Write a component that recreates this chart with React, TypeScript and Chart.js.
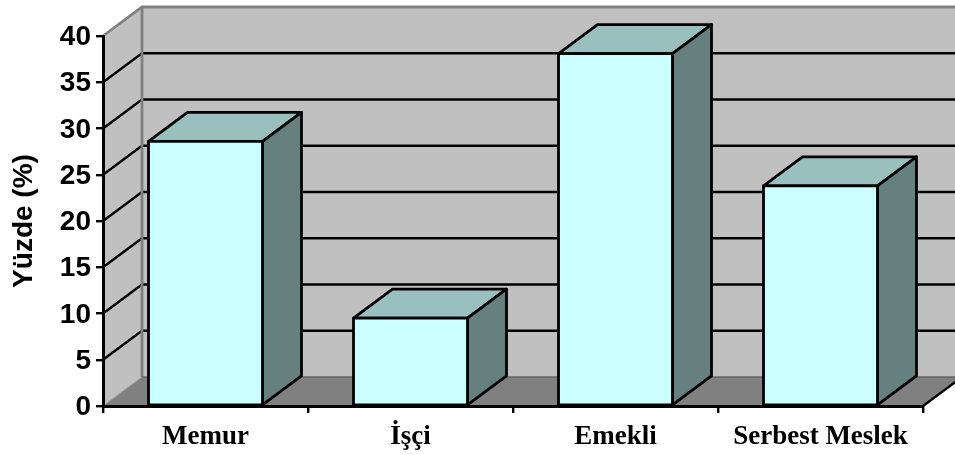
import React, { useEffect, useRef } from "react";
import { Chart, registerables } from "chart.js";

Chart.register(...registerables);

const categories = ["Memur", "İşçi", "Emekli", "Serbest Meslek"];
const percentages = [28.6, 9.5, 38.1, 23.8];
const axisMax = 40;
const axisStep = 5;
const axisTitle = "Yüzde (%)";

// Oblique offset of the chart's back plane relative to its front plane.
const DEPTH_X = 39;
const DEPTH_Y = -29;

const WALL = "#c0c0c0";
const FLOOR = "#808080";
const EDGE = "#808080";
const INK = "#000000";
const BAR_FRONT = "#ccffff";
const BAR_TOP = "#99bfbf";
const BAR_SIDE = "#668080";
const BAR_LINE = 2.8;

function polygon(ctx: CanvasRenderingContext2D, pts: number[][], fill: string | null, stroke: string | null, lw = 2) {
  ctx.beginPath();
  pts.forEach(([x, y], i) => (i ? ctx.lineTo(x, y) : ctx.moveTo(x, y)));
  ctx.closePath();
  if (fill) {
    ctx.fillStyle = fill;
    ctx.fill();
  }
  if (stroke) {
    ctx.strokeStyle = stroke;
    ctx.lineWidth = lw;
    ctx.lineJoin = "round";
    ctx.stroke();
  }
}

function segment(ctx: CanvasRenderingContext2D, pts: number[][], color: string, lw: number) {
  ctx.beginPath();
  pts.forEach(([x, y], i) => (i ? ctx.lineTo(x, y) : ctx.moveTo(x, y)));
  ctx.strokeStyle = color;
  ctx.lineWidth = lw;
  ctx.stroke();
}

function barBox(bar: any) {
  const half = bar.width / 2;
  return { l: bar.x - half, r: bar.x + half, t: bar.y, b: bar.base };
}

// Side wall, back wall, floor and the gridlines that wrap round the walls.
const roomPlugin = {
  id: "room",
  beforeDraw(chart: any) {
    const { ctx, chartArea, scales } = chart;
    const { left, right, top, bottom } = chartArea;
    const backLeft = left + DEPTH_X;
    const backRight = right + DEPTH_X;
    const backTop = top + DEPTH_Y;
    const backBottom = bottom + DEPTH_Y;
    ctx.save();
    polygon(ctx, [[backLeft, backTop], [backRight, backTop], [backRight, backBottom], [backLeft, backBottom]], WALL, null);
    polygon(ctx, [[left, top], [backLeft, backTop], [backLeft, backBottom], [left, bottom]], WALL, null);
    polygon(ctx, [[left, bottom], [backLeft, backBottom], [backRight, backBottom], [right, bottom]], FLOOR, null);

    for (const tick of scales.y.ticks) {
      if (tick.value === 0 || tick.value === axisMax) continue;
      const y = scales.y.getPixelForValue(tick.value);
      segment(ctx, [[left, y], [backLeft, y + DEPTH_Y], [backRight, y + DEPTH_Y]], INK, 2.4);
    }

    segment(ctx, [[left, top], [backLeft, backTop], [backRight, backTop]], EDGE, 2.8);
    segment(ctx, [[backLeft, backTop], [backLeft, backBottom]], EDGE, 2.8);
    segment(ctx, [[backLeft, backBottom], [backRight, backBottom]], "#666666", 1.5);
    segment(ctx, [[left, bottom], [backLeft, backBottom]], "#999999", 1);
    segment(ctx, [[right, bottom], [backRight, backBottom]], INK, 2.4);
    ctx.restore();
  },
  // Top and side faces sit behind the front face that the bar element fills.
  beforeDatasetsDraw(chart: any) {
    const { ctx } = chart;
    ctx.save();
    for (const bar of chart.getDatasetMeta(0).data) {
      const { l, r, t, b } = barBox(bar);
      polygon(ctx, [[l, t], [l + DEPTH_X, t + DEPTH_Y], [r + DEPTH_X, t + DEPTH_Y], [r, t]], BAR_TOP, INK, BAR_LINE);
      polygon(ctx, [[r, t], [r + DEPTH_X, t + DEPTH_Y], [r + DEPTH_X, b + DEPTH_Y], [r, b]], BAR_SIDE, INK, BAR_LINE);
    }
    ctx.restore();
  },
  // Outline centred on the bar's true edges, so its top stays on the value.
  afterDatasetsDraw(chart: any) {
    const { ctx } = chart;
    ctx.save();
    for (const bar of chart.getDatasetMeta(0).data) {
      const { l, r, t, b } = barBox(bar);
      polygon(ctx, [[l, t], [r, t], [r, b], [l, b]], null, INK, BAR_LINE);
    }
    ctx.restore();
  },
};

export default function App() {
  const ref = useRef<HTMLCanvasElement>(null);

  useEffect(() => {
    const chart = new Chart(ref.current!, {
      type: "bar",
      data: {
        labels: categories,
        datasets: [
          {
            data: percentages,
            backgroundColor: BAR_FRONT,
            borderWidth: 0,
            categoryPercentage: 1,
            barPercentage: 0.556,
          },
        ],
      },
      plugins: [roomPlugin],
      options: {
        responsive: false,
        animation: false,
        layout: { padding: { top: 36, right: 32, left: 0, bottom: 0 } },
        plugins: { legend: { display: false }, tooltip: { enabled: false } },
        scales: {
          x: {
            afterFit(scale: any) {
              scale.height = 49;
            },
            grid: { drawOnChartArea: false, color: INK, lineWidth: 2.4, tickLength: 7 },
            border: { color: INK, width: 3 },
            ticks: {
              color: INK,
              padding: 8,
              maxRotation: 0,
              font: { family: "'Liberation Serif'", weight: "bold", size: 27 },
            },
          },
          y: {
            min: 0,
            max: axisMax,
            afterFit(scale: any) {
              scale.width = 103;
            },
            grid: { drawOnChartArea: false, color: INK, lineWidth: 2.4, tickLength: 7 },
            border: { color: INK, width: 3 },
            ticks: {
              stepSize: axisStep,
              color: INK,
              padding: 5,
              labelOffset: 1.5,
              font: { family: "'Liberation Sans'", weight: "bold", size: 28 },
            },
            title: {
              display: true,
              text: axisTitle,
              color: INK,
              padding: { top: 7, bottom: 0 },
              font: { family: "'Liberation Sans'", weight: "bold", size: 28 },
            },
          },
        },
      },
    } as any);
    return () => chart.destroy();
  }, []);

  return (
    <div style={{ position: "fixed", left: 0, top: 0, width: 955, height: 455, overflow: "hidden", background: "#fff" }}>
      <canvas ref={ref} width={955} height={455} style={{ display: "block" }} />
    </div>
  );
}
